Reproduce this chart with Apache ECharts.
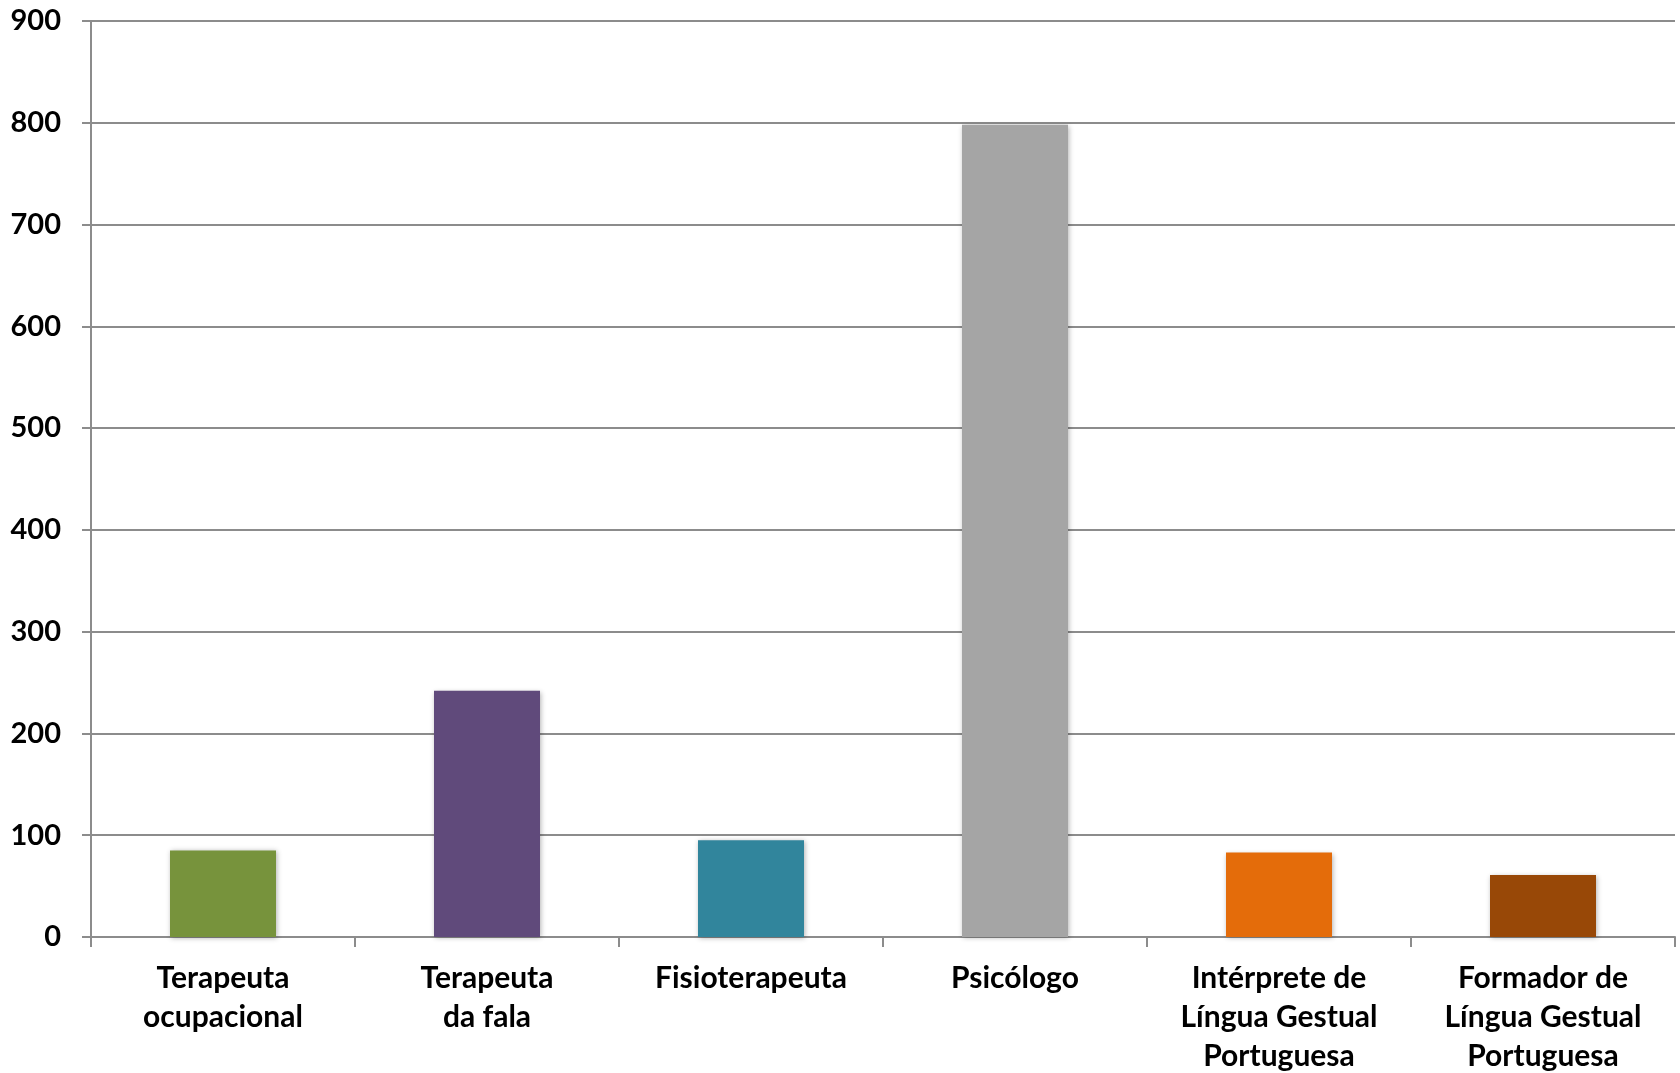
<!DOCTYPE html>
<html>
<head>
<meta charset="utf-8">
<script src="https://cdn.jsdelivr.net/npm/echarts@6/dist/echarts.min.js"></script>
<style>
html,body{margin:0;padding:0;background:#fff;}
#chart{width:1680px;height:1073px;}
</style>
</head>
<body>
<div id="chart"></div>
<script>
const categories = [
  "Terapeuta\nocupacional",
  "Terapeuta\nda fala",
  "Fisioterapeuta",
  "Psicólogo",
  "Intérprete de\nLíngua Gestual\nPortuguesa",
  "Formador de\nLíngua Gestual\nPortuguesa"
];
const values = [85, 242, 95, 798, 83, 61];
const barColors = ["#77933C", "#604A7B", "#31859C", "#A5A5A5", "#E46C0A", "#984807"];
const yTicks = { min: 0, max: 900, interval: 100 };

const chart = echarts.init(document.getElementById('chart'));
const axisGray = '#8c8c8c';
chart.setOption({
  animation: false,
  backgroundColor: '#ffffff',
  grid: { left: 91, right: 5, top: 21, bottom: 136, outerBoundsMode: 'none', containLabel: false },
  xAxis: {
    type: 'category',
    data: categories,
    axisLine: { show: true, lineStyle: { color: axisGray, width: 2 } },
    axisTick: { show: true, length: 10, lineStyle: { color: axisGray, width: 2 } },
    axisLabel: {
      interval: 0,
      color: '#000',
      fontFamily: 'Lato',
      fontWeight: 'bold',
      fontSize: 30,
      lineHeight: 39,
      margin: 22
    },
    splitLine: { show: false }
  },
  yAxis: {
    type: 'value',
    min: yTicks.min,
    max: yTicks.max,
    interval: yTicks.interval,
    axisLine: { show: true, lineStyle: { color: axisGray, width: 2 } },
    axisTick: { show: true, length: 9, lineStyle: { color: axisGray, width: 2 } },
    axisLabel: {
      color: '#000',
      fontFamily: 'Lato',
      fontWeight: 'bold',
      fontSize: 29,
      margin: 30
    },
    splitLine: { show: true, lineStyle: { color: axisGray, width: 2 } }
  },
  series: [{
    type: 'bar',
    data: values.map((v, i) => ({ value: v, itemStyle: { color: barColors[i] } })),
    barWidth: 106,
    itemStyle: {
      shadowBlur: 5,
      shadowColor: 'rgba(0,0,0,0.3)',
      shadowOffsetX: 1,
      shadowOffsetY: 1
    }
  }]
});
</script>
</body>
</html>
